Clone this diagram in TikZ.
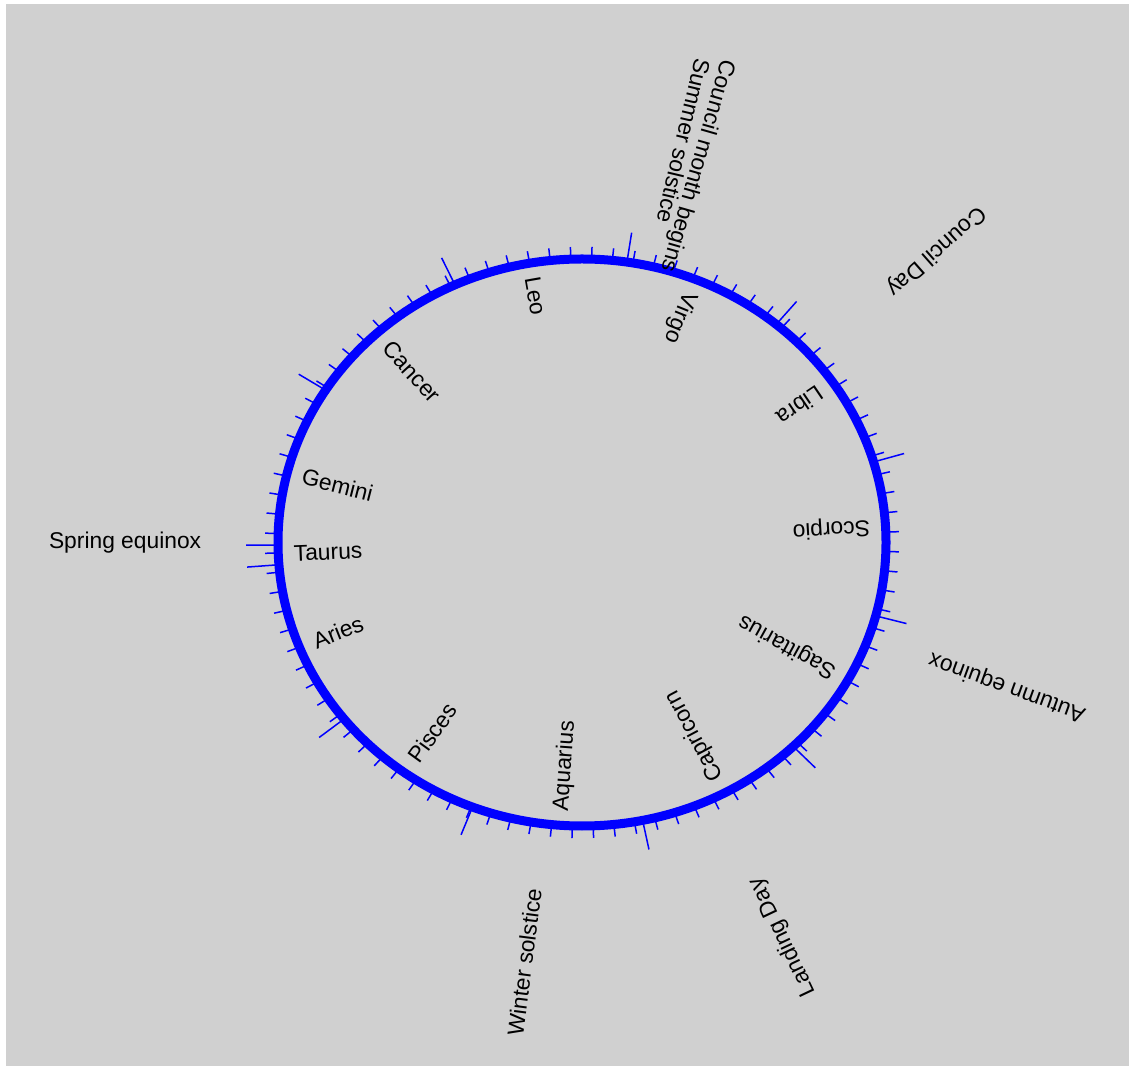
\documentclass[tikz,border=0pt]{standalone}
\usepackage{fontspec}
\setmainfont{Liberation Sans}

\definecolor{panelgray}{RGB}{208,208,208}
\definecolor{ringblue}{RGB}{0,0,255}

\begin{document}
\begin{tikzpicture}[x=0.5pt,y=0.5pt,
  ring/.style={draw=ringblue, line width=4.5pt},
  daytick/.style={draw=ringblue, line width=0.75pt},
  eventtick/.style={draw=ringblue, line width=0.75pt},
  wheeltext/.style={font=\fontsize{11.4}{13}\selectfont, inner sep=0pt}]

% Canvas
\useasboundingbox (0,0) rectangle (1129,1066);
\fill[panelgray] (6,0) rectangle (1129,1062);

\begin{scope}[shift={(582,523.5)}, xscale=304, yscale=283.5]

% Day ticks
\foreach \i in {0,...,91}
  \draw[daytick] ({2.1+\i*3.91304}:1) -- ({2.1+\i*3.91304}:1.043);

% Long ticks
\foreach \a in {16.5,50.3,81.5,114.7,147.5,180.5,184.5,218.5,248.9,281.5,314,345}
  \draw[eventtick] (\a:1) -- (\a:1.105);

% Ring
\draw[ring] (0,0) circle (1);

% Signs
\foreach \a/\name [count=\k] in {99.96/Leo, 68.1/Virgo, 34.1/Libra, 3.5/Scorpio,
    -28.9/Sagittarius, -61.9/Capricorn, -94.0/Aquarius, -126.0/Pisces,
    -158.4/Aries, -177.7/Taurus, 165.7/Gemini, 132.6/Cancer}
  \node[wheeltext, rotate=\a+180, anchor=west] (sign\k) at (\a:0.95) {\name};

% Events
\foreach \a/\r/\name [count=\k] in {180/1.503/Spring equinox, -20.0/1.488/Autumn equinox,
    41.45/1.553/Council Day, -64.6/1.54/Landing Day, -97.3/1.492/Winter solstice,
    74.1/1.381/Council month begins, 76.7/1.455/Summer solstice}
  \node[wheeltext, rotate=\a+180] (event\k) at (\a:\r) {\name};

\end{scope}

\end{tikzpicture}
\end{document}
